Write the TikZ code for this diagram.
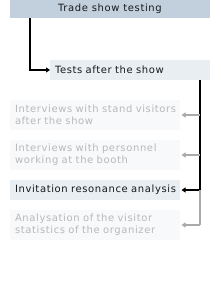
\documentclass[tikz,border=0pt]{standalone}
\usepackage{fontspec}
\setmainfont[LetterSpace=6.2]{DejaVu Sans}
\usetikzlibrary{arrows.meta}
\definecolor{topfill}{RGB}{193,208,220}
\definecolor{actfill}{RGB}{232,238,242}
\definecolor{offfill}{RGB}{248,249,250}
\definecolor{offtext}{RGB}{185,185,185}
\definecolor{offline}{RGB}{170,170,170}
\definecolor{ontext}{RGB}{25,25,25}
\begin{document}
\begin{tikzpicture}[x=1pt,y=-1pt,
  every node/.style={font=\fontsize{10}{12.3}\selectfont, inner sep=0pt, outer sep=0pt},
  topbox/.style={fill=topfill, text=ontext, minimum width=200pt, minimum height=18pt, align=center},
  actbox/.style={fill=actfill, text=ontext, anchor=north west, minimum height=20pt, inner xsep=5pt, align=left},
  offbox/.style={fill=offfill, text=offtext, anchor=north west, minimum height=30pt, text width=160pt, inner xsep=5pt, align=left},
  onarrow/.style={draw=black, line width=1.8pt, -{Triangle[length=4pt,width=5pt]}},
  offarrow/.style={draw=offline, line width=1.6pt, -{Triangle[length=4pt,width=5pt]}},
  online/.style={draw=black, line width=1.8pt},
  offlinestyle/.style={draw=offline, line width=1.6pt}
]
\useasboundingbox (0,0) rectangle (220,300);
\node[topbox] (top) at (110,9) {Trade show testing};
\node[actbox, text width=150pt] (tests) at (50,60) {Tests after the show};
\node[offbox] (iv1) at (10,100) {Interviews with stand visitors\\after the show};
\node[offbox] (iv2) at (10,140) {Interviews with personnel\\working at the booth};
\node[actbox, text width=160pt] (inv) at (10,180) {Invitation resonance analysis};
\node[offbox] (an) at (10,210) {Analysation of the visitor\\statistics of the organizer};
% connector coordinates
\coordinate (tstart) at (30,18);
\coordinate (tbend) at (30,70);
\coordinate (vtop) at (200,80);
\coordinate (j1) at (200,115);
\coordinate (j2) at (200,155);
\coordinate (j3) at (200,190);
\coordinate (j4) at (200,225);
% connectors
\draw[onarrow] (tstart) -- (tbend) -- (tests.west);
\draw[online] (vtop) -- (j3);
\draw[onarrow] (j3) -- ([xshift=1.5pt]inv.east);
\draw[offlinestyle] (j3) -- (j4);
\draw[offarrow] (j1) -- ([xshift=1.5pt]iv1.east);
\draw[offarrow] (j2) -- ([xshift=1.5pt]iv2.east);
\draw[offarrow] (j4) -- ([xshift=1.5pt]an.east);
\end{tikzpicture}
\end{document}
